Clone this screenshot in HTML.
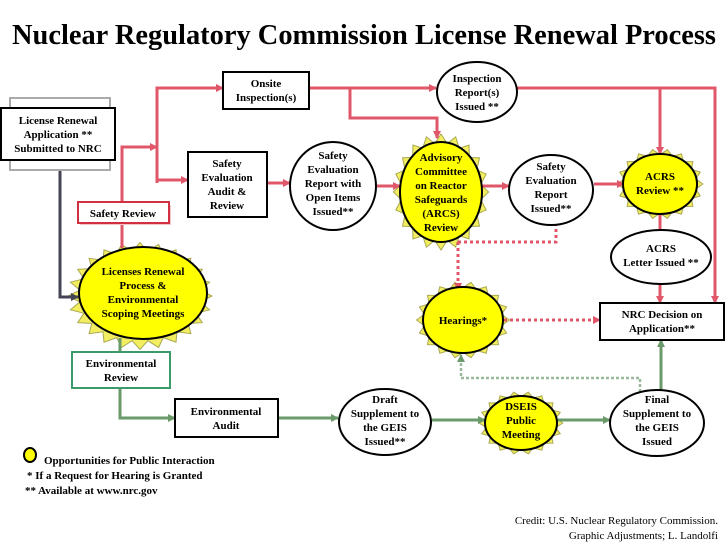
<!DOCTYPE html>
<html><head><meta charset="utf-8"><style>
html,body{margin:0;padding:0;background:#fff;}
svg{display:block;font-family:"Liberation Serif",serif;}
.t{font-weight:bold;font-size:11px;text-anchor:middle;fill:#000;}
</style></head><body>
<svg id="s" width="728" height="546" viewBox="0 0 728 546" xmlns="http://www.w3.org/2000/svg">
<defs>
<marker id="ar" markerWidth="8" markerHeight="8" refX="7" refY="4" orient="auto" markerUnits="userSpaceOnUse"><path d="M0,0 L8,4 L0,8 z" fill="#e0576a"/></marker>
<marker id="ag" markerWidth="8" markerHeight="8" refX="7" refY="4" orient="auto" markerUnits="userSpaceOnUse"><path d="M0,0 L8,4 L0,8 z" fill="#6a9a6a"/></marker>
<marker id="ak" markerWidth="8" markerHeight="8" refX="7" refY="4" orient="auto" markerUnits="userSpaceOnUse"><path d="M0,0 L8,4 L0,8 z" fill="#445"/></marker>
</defs>
<text x="12" y="44" textLength="704" lengthAdjust="spacingAndGlyphs" font-weight="bold" font-size="28">Nuclear Regulatory Commission License Renewal Process</text>
<g id="suns"></g>
<g stroke="#e0576a" stroke-width="3" fill="none">
<path d="M122,202 V147 H157" marker-end="url(#ar)"/>
<path d="M157,183 V88 H223" marker-end="url(#ar)"/>
<path d="M157,180 H188" marker-end="url(#ar)"/>
<path d="M122,223 V248"/>
<path d="M309,88 H436" marker-end="url(#ar)"/>
<path d="M350,88 V118 H437 V138" marker-end="url(#ar)"/>
<path d="M267,183 H290" marker-end="url(#ar)"/>
<path d="M376,186 H400" marker-end="url(#ar)"/>
<path d="M482,186 H509" marker-end="url(#ar)"/>
<path d="M594,184 H624" marker-end="url(#ar)"/>
<path d="M517,88 H715 V303" marker-end="url(#ar)"/>
<path d="M660,88 V154" marker-end="url(#ar)"/>
<path d="M660,213 V230"/>
<path d="M660,283 V303" marker-end="url(#ar)"/>
</g>
<g stroke="#e0576a" stroke-width="3" fill="none" stroke-dasharray="3,3">
<path d="M458,242 H556 V225"/>
<path d="M458,242 V290" marker-end="url(#ar)"/>
<path d="M504,320 H600" marker-end="url(#ar)"/>
</g>
<path d="M60,170 V297 H78" stroke="#445" stroke-width="3" fill="none" marker-end="url(#ak)"/>
<g stroke="#6a9a6a" stroke-width="3" fill="none">
<path d="M120,338 V352"/>
<path d="M120,388 V418 H175" marker-end="url(#ag)"/>
<path d="M278,418 H338" marker-end="url(#ag)"/>
<path d="M432,420 H485" marker-end="url(#ag)"/>
<path d="M557,420 H610" marker-end="url(#ag)"/>
<path d="M661,390 V340" marker-end="url(#ag)"/>
</g>
<path d="M640,392 V378 H461 V355" stroke="#9ab89a" stroke-width="2.5" fill="none" stroke-dasharray="3,2" marker-end="url(#ag)"/>
<rect x="10" y="98" width="100" height="72" fill="#fff" stroke="#aaa" stroke-width="2"/>
<rect x="1" y="108" width="114" height="52" fill="#fff" stroke="#000" stroke-width="2"/>
<text class="t" x="58" y="124">License Renewal</text>
<text class="t" x="58" y="138">Application **</text>
<text class="t" x="58" y="152">Submitted to NRC</text>
<rect x="223" y="72" width="86" height="37" fill="#fff" stroke="#000" stroke-width="2"/>
<text class="t" x="266" y="87">Onsite</text><text class="t" x="266" y="101">Inspection(s)</text>
<rect x="188" y="152" width="79" height="65" fill="#fff" stroke="#000" stroke-width="2"/>
<text class="t" x="227" y="167">Safety</text><text class="t" x="227" y="181">Evaluation</text><text class="t" x="227" y="195">Audit &amp;</text><text class="t" x="227" y="209">Review</text>
<rect x="80" y="205" width="91" height="20" fill="#f4c6cc" stroke="none"/>
<rect x="78" y="202" width="91" height="21" fill="#fff" stroke="#d03040" stroke-width="2"/>
<text class="t" x="123" y="217">Safety Review</text>
<ellipse cx="333" cy="186" rx="43" ry="44" fill="#fff" stroke="#000" stroke-width="2"/>
<text class="t" x="333" y="159">Safety</text><text class="t" x="333" y="173">Evaluation</text><text class="t" x="333" y="187">Report with</text><text class="t" x="333" y="201">Open Items</text><text class="t" x="333" y="215">Issued**</text>
<ellipse cx="143" cy="293" rx="64" ry="46" fill="#ffff00" stroke="#000" stroke-width="2"/>
<text class="t" x="143" y="275">Licenses Renewal</text><text class="t" x="143" y="289">Process &amp;</text><text class="t" x="143" y="303">Environmental</text><text class="t" x="143" y="317">Scoping  Meetings</text>
<ellipse cx="477" cy="92" rx="40" ry="30" fill="#fff" stroke="#000" stroke-width="2"/>
<text class="t" x="477" y="82">Inspection</text><text class="t" x="477" y="96">Report(s)</text><text class="t" x="477" y="110">Issued **</text>
<ellipse cx="441" cy="192" rx="41" ry="50" fill="#ffff00" stroke="#000" stroke-width="2"/>
<text class="t" x="441" y="161">Advisory</text><text class="t" x="441" y="175">Committee</text><text class="t" x="441" y="189">on Reactor</text><text class="t" x="441" y="203">Safeguards</text><text class="t" x="441" y="217">(ARCS)</text><text class="t" x="441" y="231">Review</text>
<ellipse cx="551" cy="190" rx="42" ry="35" fill="#fff" stroke="#000" stroke-width="2"/>
<text class="t" x="551" y="170">Safety</text><text class="t" x="551" y="184">Evaluation</text><text class="t" x="551" y="198">Report</text><text class="t" x="551" y="212">Issued**</text>
<ellipse cx="660" cy="184" rx="37" ry="30" fill="#ffff00" stroke="#000" stroke-width="2"/>
<text class="t" x="660" y="180">ACRS</text><text class="t" x="660" y="194">Review **</text>
<ellipse cx="661" cy="257" rx="50" ry="27" fill="#fff" stroke="#000" stroke-width="2"/>
<text class="t" x="661" y="252">ACRS</text><text class="t" x="661" y="266">Letter Issued **</text>
<rect x="600" y="303" width="124" height="37" fill="#fff" stroke="#000" stroke-width="2"/>
<text class="t" x="662" y="318">NRC Decision on</text><text class="t" x="662" y="332">Application**</text>
<ellipse cx="463" cy="320" rx="40" ry="33" fill="#ffff00" stroke="#000" stroke-width="2"/>
<text class="t" x="463" y="324">Hearings*</text>
<rect x="72" y="352" width="98" height="36" fill="#fff" stroke="#3a9a6a" stroke-width="2"/>
<text class="t" x="121" y="367">Environmental</text><text class="t" x="121" y="381">Review</text>
<rect x="175" y="399" width="103" height="38" fill="#fff" stroke="#000" stroke-width="2"/>
<text class="t" x="226" y="415">Environmental</text><text class="t" x="226" y="429">Audit</text>
<ellipse cx="385" cy="422" rx="46" ry="33" fill="#fff" stroke="#000" stroke-width="2"/>
<text class="t" x="385" y="403">Draft</text><text class="t" x="385" y="417">Supplement to</text><text class="t" x="385" y="431">the GEIS</text><text class="t" x="385" y="445">Issued**</text>
<ellipse cx="521" cy="423" rx="36" ry="27" fill="#ffff00" stroke="#000" stroke-width="2"/>
<text class="t" x="521" y="410">DSEIS</text><text class="t" x="521" y="424">Public</text><text class="t" x="521" y="438">Meeting</text>
<ellipse cx="657" cy="423" rx="47" ry="33" fill="#fff" stroke="#000" stroke-width="2"/>
<text class="t" x="657" y="403">Final</text><text class="t" x="657" y="417">Supplement to</text><text class="t" x="657" y="431">the GEIS</text><text class="t" x="657" y="445">Issued</text>
<ellipse cx="30" cy="455" rx="6" ry="7" fill="#ffff00" stroke="#000" stroke-width="2"/>
<g font-weight="bold" font-size="11">
<text x="44" y="464">Opportunities for Public Interaction</text>
<text x="27" y="479">*    If a Request for Hearing is Granted</text>
<text x="25" y="494">** Available at www.nrc.gov</text>
</g>
<g font-size="11" text-anchor="end">
<text x="718" y="524">Credit: U.S. Nuclear Regulatory Commission.</text>
<text x="718" y="539">Graphic Adjustments; L. Landolfi</text>
</g>
</svg>
<script>
(function(){
var g=document.getElementById('suns');var ns='http://www.w3.org/2000/svg';
[[140,296,62,46,24],[441,192,41,50,20],[660,184,37,30,18],[463,320,40,33,18],[521,423,36,27,18]].forEach(function(c){
var n=c[4],p=[];for(var i=0;i<2*n;i++){var a=Math.PI*i/n;var r=(i%2==0)?1.16:0.98;p.push((c[0]+Math.cos(a)*c[2]*r).toFixed(1)+','+(c[1]+Math.sin(a)*c[3]*r).toFixed(1));}
var e=document.createElementNS(ns,'polygon');e.setAttribute('points',p.join(' '));e.setAttribute('fill','#f2ee60');e.setAttribute('stroke','#a8a850');e.setAttribute('stroke-width','1');g.appendChild(e);});
})();
</script>
</body></html>
